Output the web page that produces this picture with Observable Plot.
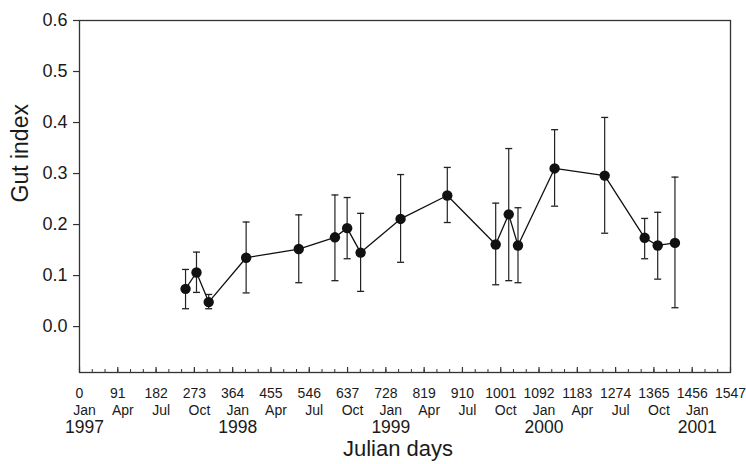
<!DOCTYPE html>
<html><head><meta charset="utf-8">
<script src="https://cdn.jsdelivr.net/npm/d3@7"></script>
<script src="https://cdn.jsdelivr.net/npm/@observablehq/plot@0.6"></script>
<style>html,body{margin:0;padding:0;background:#fff} svg{display:block}</style>
</head><body><div id="chart"></div>
<script>
// Julian day of sampling, mean gut index, and error-bar extents
const days = [252, 278, 307, 396, 521, 607, 636, 668, 763, 874, 989, 1020, 1042, 1129, 1248, 1343, 1374, 1415];
const gutIndex = [0.074, 0.106, 0.048, 0.135, 0.152, 0.175, 0.193, 0.145, 0.211, 0.257, 0.161, 0.220, 0.159, 0.310, 0.296, 0.174, 0.159, 0.164];
const errUpper = [0.112, 0.146, 0.063, 0.205, 0.219, 0.258, 0.253, 0.222, 0.298, 0.312, 0.242, 0.349, 0.233, 0.386, 0.410, 0.212, 0.224, 0.293];
const errLower = [0.035, 0.067, 0.035, 0.066, 0.086, 0.090, 0.133, 0.069, 0.126, 0.204, 0.082, 0.090, 0.086, 0.236, 0.183, 0.133, 0.093, 0.037];

// axis ticks and labels
const xTicks = [0, 91, 182, 273, 364, 455, 546, 637, 728, 819, 910, 1001, 1092, 1183, 1274, 1365, 1456, 1547];
const monthLabels = ["Jan", "Apr", "Jul", "Oct", "Jan", "Apr", "Jul", "Oct", "Jan", "Apr", "Jul", "Oct", "Jan", "Apr", "Jul", "Oct", "Jan", ""];
const yearTicks = [0, 364, 728, 1092, 1456];
const yearLabels = ["1997", "1998", "1999", "2000", "2001"];
const yTicks = [0.0, 0.1, 0.2, 0.3, 0.4, 0.5, 0.6];
const xDomain = [0, 1547];
const yDomain = [-0.09, 0.6];

const data = days.map((d, i) => ({day: d, g: gutIndex[i], hi: errUpper[i], lo: errLower[i]}));
const minorTicks = d3.range(0, 1547.5, 91 / 3);

const capSymbol = {
  draw(ctx, size) {
    const w = Math.sqrt(size / Math.PI);
    ctx.moveTo(-w, 0);
    ctx.lineTo(w, 0);
  }
};

const ink = "#1a1a1a";

const chart = Plot.plot({
  width: 746,
  height: 464,
  marginLeft: 79,
  marginRight: 16,
  marginTop: 20,
  marginBottom: 92,
  style: {fontFamily: "'Liberation Sans', Arial, Helvetica, sans-serif", color: ink, background: "#fff"},
  x: {domain: xDomain},
  y: {domain: yDomain},
  marks: [
    Plot.frame({stroke: "#333", strokeWidth: 1.3}),
    // y axis
    Plot.axisY({ticks: yTicks, tickFormat: d3.format(".1f"), tickSize: 6, tickPadding: 6, fontSize: 18, label: null, stroke: "#333", strokeWidth: 1.2}),
    // inward x ticks: minor and major
    Plot.axisX({ticks: minorTicks, tickSize: 3, dy: -3, tickFormat: () => "", label: null, stroke: "#333"}),
    Plot.axisX({ticks: xTicks, tickSize: 5, dy: -5, tickFormat: () => "", label: null, stroke: "#333", strokeWidth: 1.2}),
    // day numbers
    Plot.axisX({ticks: xTicks, tickSize: 0, tickPadding: 16, tickFormat: d => String(d), fontSize: 14, label: null}),
    // month names
    Plot.axisX({ticks: xTicks, tickSize: 0, tickPadding: 33, dx: 5, tickFormat: d => monthLabels[xTicks.indexOf(d)], fontSize: 14, label: null}),
    // years
    Plot.axisX({ticks: yearTicks, tickSize: 0, tickPadding: 48, dx: 5, tickFormat: d => yearLabels[yearTicks.indexOf(d)], fontSize: 17.5, label: null}),
    // axis titles
    Plot.text(["Julian days"], {frameAnchor: "bottom", dy: 83, dx: -7, fontSize: 22, fill: ink}),
    Plot.text(["Gut index"], {frameAnchor: "left", rotate: -90, dx: -59, dy: 6, fontSize: 23, fill: ink}),
    // error bars
    Plot.ruleX(data, {x: "day", y1: "lo", y2: "hi", stroke: "#222", strokeWidth: 1.2}),
    Plot.dot(data, {x: "day", y: "hi", symbol: capSymbol, r: 3.5, stroke: "#222", strokeWidth: 1.3, fill: "none"}),
    Plot.dot(data, {x: "day", y: "lo", symbol: capSymbol, r: 3.5, stroke: "#222", strokeWidth: 1.3, fill: "none"}),
    // series
    Plot.line(data, {x: "day", y: "g", stroke: "#111", strokeWidth: 1.3}),
    Plot.dot(data, {x: "day", y: "g", r: 5.2, fill: "#111", stroke: "none"})
  ]
});
document.getElementById("chart").appendChild(chart);
</script>
</body></html>
